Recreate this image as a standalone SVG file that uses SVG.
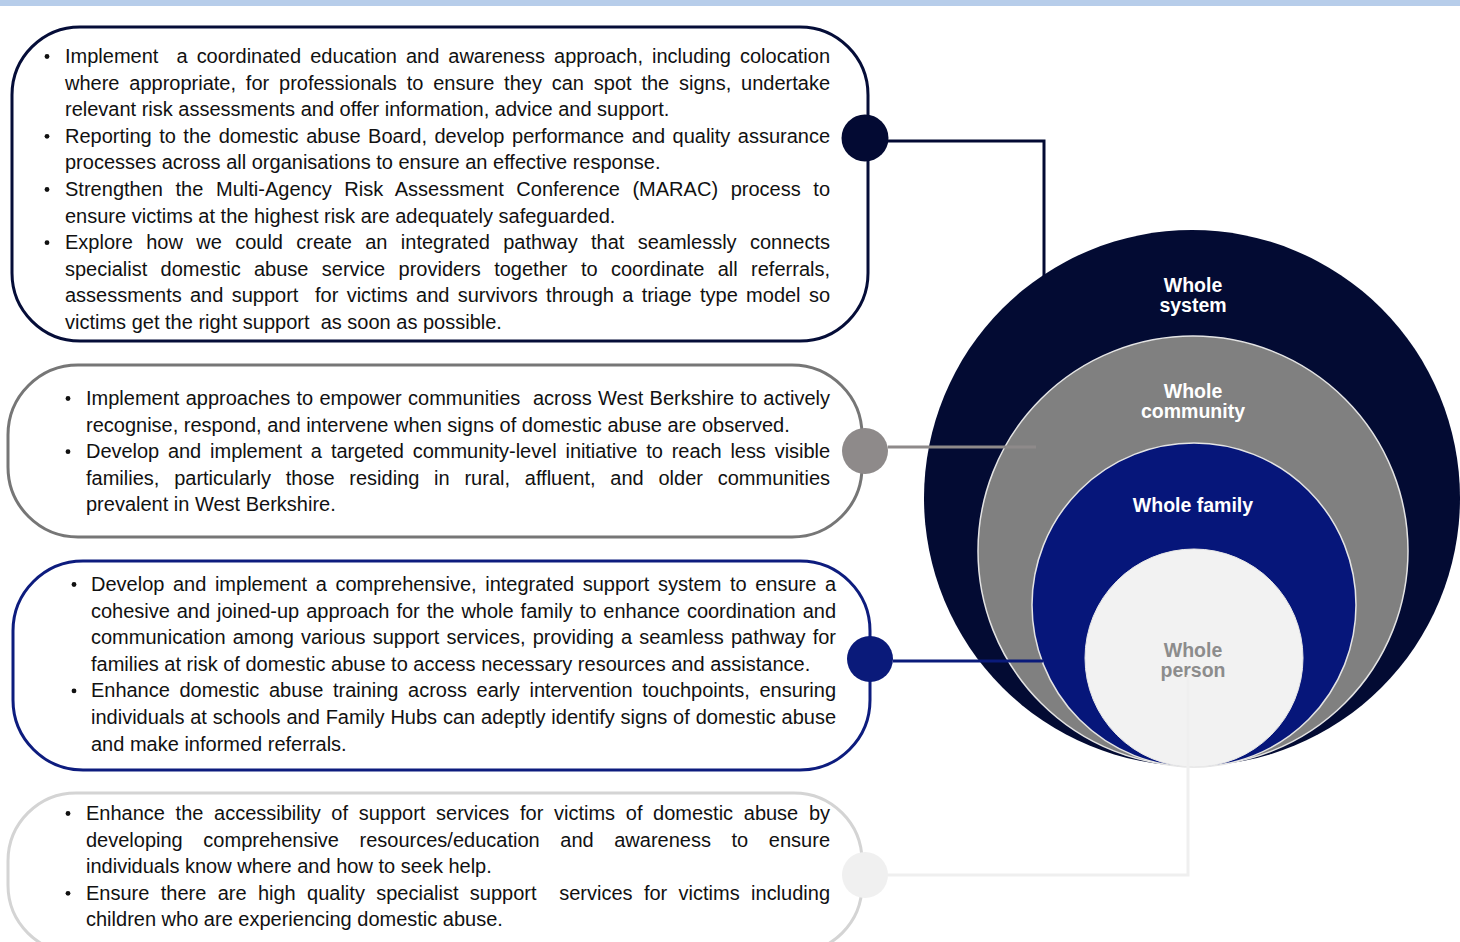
<svg xmlns="http://www.w3.org/2000/svg" width="1460" height="942" viewBox="0 0 1460 942">
<style>
.t{font-family:"Liberation Sans",Arial,sans-serif;font-size:20px;fill:#111;white-space:pre}
.lbl{font-family:"Liberation Sans",Arial,sans-serif;font-size:19.5px;font-weight:bold;text-anchor:middle}
.box{fill:#fff;stroke-width:3}
.bul{fill:#111}
.conn{fill:none;stroke-width:3}
</style>
<rect x="0" y="0" width="1460" height="6" fill="#b7cdea"/>

<g id="circles">
  <g id="whole-system">
    <circle cx="1192" cy="498" r="268" fill="#030b33"/>
    <text class="lbl" x="1193" y="292" fill="#fff">Whole</text>
    <text class="lbl" x="1193" y="312" fill="#fff">system</text>
  </g>
  <g id="whole-community">
    <circle cx="1193" cy="551" r="215" fill="#808080" stroke="#e4e4e4" stroke-width="1.5"/>
    <text class="lbl" x="1193" y="398" fill="#fff">Whole</text>
    <text class="lbl" x="1193" y="418" fill="#fff">community</text>
  </g>
  <g id="whole-family">
    <circle cx="1194" cy="605" r="162" fill="#06167a" stroke="#e4e4e4" stroke-width="1.5"/>
    <text class="lbl" x="1193" y="512" fill="#fff">Whole family</text>
  </g>
  <g id="whole-person">
    <circle cx="1194" cy="658" r="109" fill="#f2f2f2" stroke="#e8e8e8" stroke-width="1"/>
    <text class="lbl" x="1193" y="657" fill="#8c8c8c">Whole</text>
    <text class="lbl" x="1193" y="677" fill="#8c8c8c">person</text>
  </g>
</g>

<g id="box-system">
  <rect class="box" x="12" y="27" width="856" height="314" rx="68" stroke="#050d38"/>
  <circle class="bul" cx="47" cy="56.5" r="2.4"/>
  <circle class="bul" cx="47" cy="136.3" r="2.4"/>
  <circle class="bul" cx="47" cy="189.5" r="2.4"/>
  <circle class="bul" cx="47" cy="242.7" r="2.4"/>
  <text class="t" x="65" y="63" word-spacing="3.5" textLength="765" lengthAdjust="spacing">Implement  a coordinated education and awareness approach, including colocation</text>
  <text class="t" x="65" y="89.6" word-spacing="4.26" textLength="765" lengthAdjust="spacing">where appropriate, for professionals to ensure they can spot the signs, undertake</text>
  <text class="t" x="65" y="116.2">relevant risk assessments and offer information, advice and support.</text>
  <text class="t" x="65" y="142.8" word-spacing="2.02" textLength="765" lengthAdjust="spacing">Reporting to the domestic abuse Board, develop performance and quality assurance</text>
  <text class="t" x="65" y="169.4">processes across all organisations to ensure an effective response.</text>
  <text class="t" x="65" y="196" word-spacing="6.99" textLength="765" lengthAdjust="spacing">Strengthen the Multi-Agency Risk Assessment Conference (MARAC) process to</text>
  <text class="t" x="65" y="222.6">ensure victims at the highest risk are adequately safeguarded.</text>
  <text class="t" x="65" y="249.2" word-spacing="7.8" textLength="765" lengthAdjust="spacing">Explore how we could create an integrated pathway that seamlessly connects</text>
  <text class="t" x="65" y="275.8" word-spacing="7.81" textLength="765" lengthAdjust="spacing">specialist domestic abuse service providers together to coordinate all referrals,</text>
  <text class="t" x="65" y="302.4" word-spacing="2.75" textLength="765" lengthAdjust="spacing">assessments and support  for victims and survivors through a triage type model so</text>
  <text class="t" x="65" y="329">victims get the right support  as soon as possible.</text>
  <circle cx="865" cy="138" r="23.5" fill="#030a33"/>
</g>

<g id="box-community">
  <rect class="box" x="8" y="365" width="854" height="172" rx="70" stroke="#767676"/>
  <circle class="bul" cx="68" cy="398.5" r="2.4"/>
  <circle class="bul" cx="68" cy="451.7" r="2.4"/>
  <text class="t" x="86" y="405" word-spacing="0.71" textLength="744" lengthAdjust="spacing">Implement approaches to empower communities  across West Berkshire to actively</text>
  <text class="t" x="86" y="431.6">recognise, respond, and intervene when signs of domestic abuse are observed.</text>
  <text class="t" x="86" y="458.2" word-spacing="3.43" textLength="744" lengthAdjust="spacing">Develop and implement a targeted community-level initiative to reach less visible</text>
  <text class="t" x="86" y="484.8" word-spacing="9.19" textLength="744" lengthAdjust="spacing">families, particularly those residing in rural, affluent, and older communities</text>
  <text class="t" x="86" y="511.4">prevalent in West Berkshire.</text>
  <circle cx="865" cy="451" r="23" fill="#8e8a8a"/>
</g>

<g id="box-family">
  <rect class="box" x="13" y="561" width="857" height="209" rx="70" stroke="#0d1c7e"/>
  <circle class="bul" cx="74" cy="584.5" r="2.4"/>
  <circle class="bul" cx="74" cy="690.9" r="2.4"/>
  <text class="t" x="91" y="591" word-spacing="3.02" textLength="745" lengthAdjust="spacing">Develop and implement a comprehensive, integrated support system to ensure a</text>
  <text class="t" x="91" y="617.6" word-spacing="1.43" textLength="745" lengthAdjust="spacing">cohesive and joined-up approach for the whole family to enhance coordination and</text>
  <text class="t" x="91" y="644.2" word-spacing="1.63" textLength="745" lengthAdjust="spacing">communication among various support services, providing a seamless pathway for</text>
  <text class="t" x="91" y="670.8">families at risk of domestic abuse to access necessary resources and assistance.</text>
  <text class="t" x="91" y="697.4" word-spacing="4.17" textLength="745" lengthAdjust="spacing">Enhance domestic abuse training across early intervention touchpoints, ensuring</text>
  <text class="t" x="91" y="724" word-spacing="0.3" textLength="745" lengthAdjust="spacing">individuals at schools and Family Hubs can adeptly identify signs of domestic abuse</text>
  <text class="t" x="91" y="750.6">and make informed referrals.</text>
  <circle cx="870" cy="659" r="23" fill="#0a1a7a"/>
</g>

<g id="box-person">
  <rect class="box" x="8" y="793" width="854" height="160" rx="68" stroke="#d4d4d4"/>
  <circle class="bul" cx="68" cy="813.5" r="2.4"/>
  <circle class="bul" cx="68" cy="893.3" r="2.4"/>
  <text class="t" x="86" y="820" word-spacing="5.09" textLength="744" lengthAdjust="spacing">Enhance the accessibility of support services for victims of domestic abuse by</text>
  <text class="t" x="86" y="846.6" word-spacing="15.06" textLength="744" lengthAdjust="spacing">developing comprehensive resources/education and awareness to ensure</text>
  <text class="t" x="86" y="873.2">individuals know where and how to seek help.</text>
  <text class="t" x="86" y="899.8" word-spacing="5.8" textLength="744" lengthAdjust="spacing">Ensure there are high quality specialist support  services for victims including</text>
  <text class="t" x="86" y="926.4">children who are experiencing domestic abuse.</text>
  <circle cx="865" cy="875" r="23" fill="#f0f0f0"/>
</g>

<g id="connectors">
  <polyline class="conn" points="888,141 1044,141 1044,278" stroke="#030a33"/>
  <line class="conn" x1="888" y1="447" x2="1036" y2="447" stroke="#8e8a8a" stroke-width="3.5"/>
  <line class="conn" x1="893" y1="661" x2="1043" y2="661" stroke="#0a1a7a"/>
  <polyline class="conn" points="888,875 1188,875 1188,675" stroke="#efefef"/>
</g>
</svg>
